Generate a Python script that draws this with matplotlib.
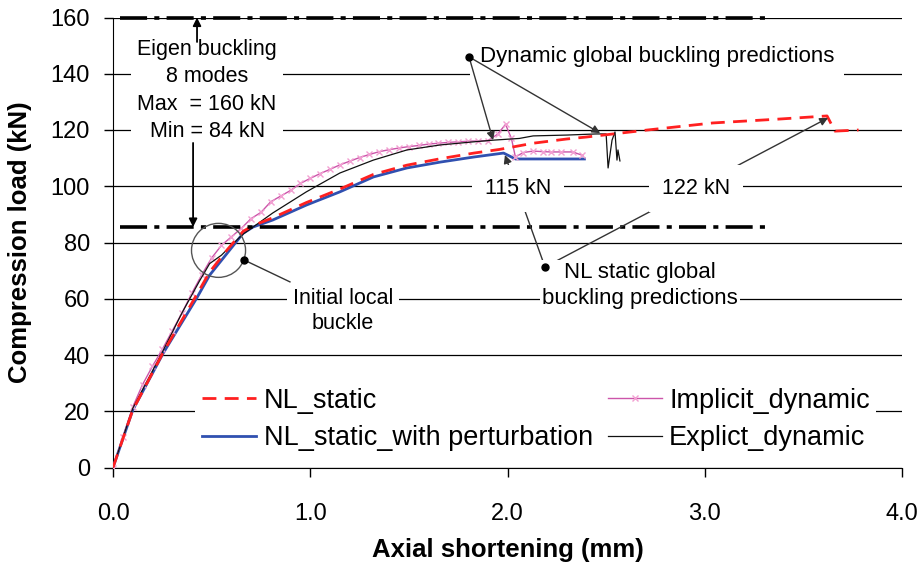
import numpy as np
import matplotlib
matplotlib.use('Agg')
import matplotlib.pyplot as plt
from matplotlib.patches import Ellipse

plt.rcParams['font.family'] = ['Liberation Sans', 'DejaVu Sans']

# NL_static (red dashed)
x_nl = [0, 0.1, 0.255, 0.425, 0.49, 0.58, 0.66, 0.71, 0.81, 0.98, 1.15, 1.32, 1.49, 1.66,
        1.83, 1.96, 2.13, 2.30, 2.40, 2.71, 3.04, 3.38, 3.62, 3.66, 3.78]
y_nl = [0, 20.4, 41, 61.5, 69.5, 77.5, 84, 86, 88.8, 94.2, 99, 104.2, 107.5, 109.8,
        111.8, 113.1, 115.3, 116.8, 117.5, 120, 122.5, 123.9, 125, 119.6, 120]

# NL_static_with perturbation (blue)
x_pert = [0, 0.1, 0.255, 0.425, 0.49, 0.58, 0.66, 0.71, 0.81, 0.98, 1.15, 1.32, 1.49, 1.66,
          1.83, 1.98, 2.04, 2.39]
y_pert = [0, 20.4, 40.7, 60.3, 68.4, 76.3, 83.3, 85.5, 88, 93.3, 98, 103.3, 106.5, 108.6,
          110.4, 111.8, 109.7, 109.7]

# Implicit_dynamic (pink, x markers)
x_imp = [0, 0.05, 0.10, 0.15, 0.20, 0.25, 0.30, 0.35, 0.40, 0.45, 0.50, 0.55, 0.60, 0.65,
         0.70, 0.75, 0.80, 0.85, 0.90, 0.95, 1.00, 1.05, 1.10, 1.15, 1.20, 1.25, 1.30, 1.35,
         1.40, 1.45, 1.50, 1.55, 1.60, 1.65, 1.70, 1.75, 1.80, 1.85, 1.90, 1.95, 1.99, 2.02,
         2.04, 2.08, 2.13, 2.18, 2.22, 2.27, 2.33, 2.38]
y_imp = [0, 10.8, 21.5, 29.5, 36, 42, 48.5, 55, 62, 68.5, 74.5, 79, 82, 85,
         88.5, 90.7, 94.5, 96.5, 98.5, 101, 102.8, 104.5, 106, 107.6, 108.9, 110.2, 111.3, 112.3,
         113, 113.6, 114.1, 114.5, 115, 115.3, 115.6, 115.8, 116, 116.1, 116.2, 118.5, 122, 117,
         110.4, 112, 112.5, 112.3, 112.2, 112.2, 112.2, 111]

# Explict_dynamic (black)
x_exp = [0, 0.1, 0.25, 0.35, 0.44, 0.49, 0.55, 0.6, 0.66, 0.71, 0.81, 0.98, 1.15, 1.32,
         1.49, 1.66, 1.83, 1.93, 2.06, 2.13, 2.30, 2.45, 2.50, 2.51, 2.53, 2.545, 2.555,
         2.56, 2.57]
y_exp = [0, 21, 41, 55, 66.5, 72.5, 75.5, 79, 83, 85.5, 90.5, 98, 104.7, 109.3,
         112.9, 114.7, 115.8, 116.4, 117, 117.9, 118.2, 118.6, 118.6, 106.5, 116.4, 119.3, 109.3,
         112.9, 109]

eigen_max = 160
eigen_min = 85.5
xticks = [0, 1, 2, 3, 4]
yticks = [0, 20, 40, 60, 80, 100, 120, 140, 160]

fig = plt.figure(figsize=(9.19, 5.70), dpi=100)
ax = fig.add_axes([113/919, 102.5/570, 789/919, 450/570])

ax.set_xlim(0, 4)
ax.set_ylim(0, 160)
ax.set_xticks(xticks)
ax.set_xticklabels(['%.1f' % t for t in xticks])
ax.set_yticks(yticks)
for s in ['top', 'right']:
    ax.spines[s].set_visible(False)
ax.tick_params(axis='both', labelsize=17, direction='out', length=6.5, width=1)
ax.tick_params(axis='x', pad=19)
ax.tick_params(axis='y', pad=10)
ax.grid(axis='y', color='black', lw=0.9, zorder=0)
ax.set_axisbelow(True)

ax.set_xlabel('Axial shortening (mm)', fontsize=18.5, fontweight='bold')
ax.set_ylabel('Compression load (kN)', fontsize=18.5, fontweight='bold')
ax.xaxis.set_label_coords(0.5, -0.156)
ax.yaxis.set_label_coords(-0.103, 0.5)

l1, = ax.plot(x_nl, y_nl, color='#ff2020', lw=2, dashes=(5, 3), label='NL_static', zorder=4)
l2, = ax.plot(x_pert, y_pert, color='#3050b0', lw=2, label='NL_static_with perturbation', zorder=3)
l3, = ax.plot(x_imp, y_imp, color='#cc55aa', lw=1, marker='x', ms=5, mec='#f2a0d2',
              label='Implicit_dynamic', zorder=3)
l4, = ax.plot(x_exp, y_exp, color='#111111', lw=0.9, label='Explict_dynamic', zorder=3)

# eigen buckling lines
for yv in [eigen_max, eigen_min]:
    ax.plot([0.035, 3.33], [yv, yv], color='black', lw=2.6, dashes=(7.5, 2, 1.4, 2), zorder=5,
            clip_on=False)

box = dict(facecolor='white', edgecolor='none', boxstyle='square,pad=0.6')
ax.text(0.477, 134, 'Eigen buckling\n8 modes\nMax  = 160 kN\nMin = 84 kN', ha='center', va='center',
        fontsize=15.5, linespacing=1.4, bbox=dict(facecolor='white', edgecolor='none',
                                                  boxstyle='square,pad=0.3'), zorder=6)
arr = dict(arrowstyle='-|>', color='black', lw=1.3, shrinkA=0, shrinkB=0, mutation_scale=12)
ax.annotate('', xy=(0.426, 160), xytext=(0.426, 151.3), arrowprops=arr, zorder=7)
ax.annotate('', xy=(0.406, 85.5), xytext=(0.406, 115.4), arrowprops=arr, zorder=7)

# dynamic global buckling
arr2 = dict(arrowstyle='-|>', color='#333333', lw=1, shrinkA=0, shrinkB=0, mutation_scale=12)
ax.text(1.86, 146, 'Dynamic global buckling predictions', ha='left', va='center', fontsize=16,
        bbox=dict(facecolor='white', edgecolor='none', boxstyle='square,pad=0.45'), zorder=6)
ax.annotate('', xy=(1.927, 116.4), xytext=(1.805, 146), arrowprops=arr2, zorder=7)
ax.annotate('', xy=(2.47, 118.9), xytext=(1.805, 146), arrowprops=arr2, zorder=7)
ax.plot([1.805], [146], 'o', color='black', ms=5, zorder=8)

# NL static global buckling
ax.annotate('', xy=(1.987, 111.1), xytext=(2.19, 71.3), arrowprops=arr2, zorder=5)
ax.annotate('', xy=(3.625, 124.3), xytext=(2.19, 71.3), arrowprops=arr2, zorder=5)
ax.plot([2.19], [71.3], 'o', color='black', ms=5, zorder=8)
ax.text(2.053, 99.2, '115 kN', ha='center', va='center', fontsize=15.5, bbox=box, zorder=6)
ax.text(2.958, 99.2, '122 kN', ha='center', va='center', fontsize=15.5, bbox=box, zorder=6)
ax.text(2.67, 64.7, 'NL static global\nbuckling predictions', ha='center', va='center',
        fontsize=16, linespacing=1.3, bbox=dict(facecolor='white', edgecolor='none',
                                                boxstyle='square,pad=0.1'), zorder=6)

# initial local buckle
ax.add_patch(Ellipse((0.535, 77.2), 0.274, 19.2, fill=False, edgecolor='#555555', lw=1, zorder=6))
ax.plot([0.664, 0.897], [73.8, 66], color='#333333', lw=1, zorder=6)
ax.plot([0.664], [73.8], 'o', color='black', ms=5, zorder=8)
ax.text(1.166, 55.6, 'Initial local\nbuckle', ha='center', va='center', fontsize=15.5,
        linespacing=1.25, bbox=dict(facecolor='white', edgecolor='none',
                                    boxstyle='square,pad=0.25'), zorder=6)

leg = ax.legend(handles=[l1, l2, l3, l4], ncol=2, loc='center', bbox_to_anchor=(0.536, 0.107),
                fontsize=19.5, frameon=True, fancybox=False, edgecolor='none', framealpha=1,
                handlelength=2.0, handletextpad=0.27, columnspacing=0.55, labelspacing=0.42,
                borderpad=0.25)
leg.set_zorder(6)

plt.savefig('out.png', dpi=100)
